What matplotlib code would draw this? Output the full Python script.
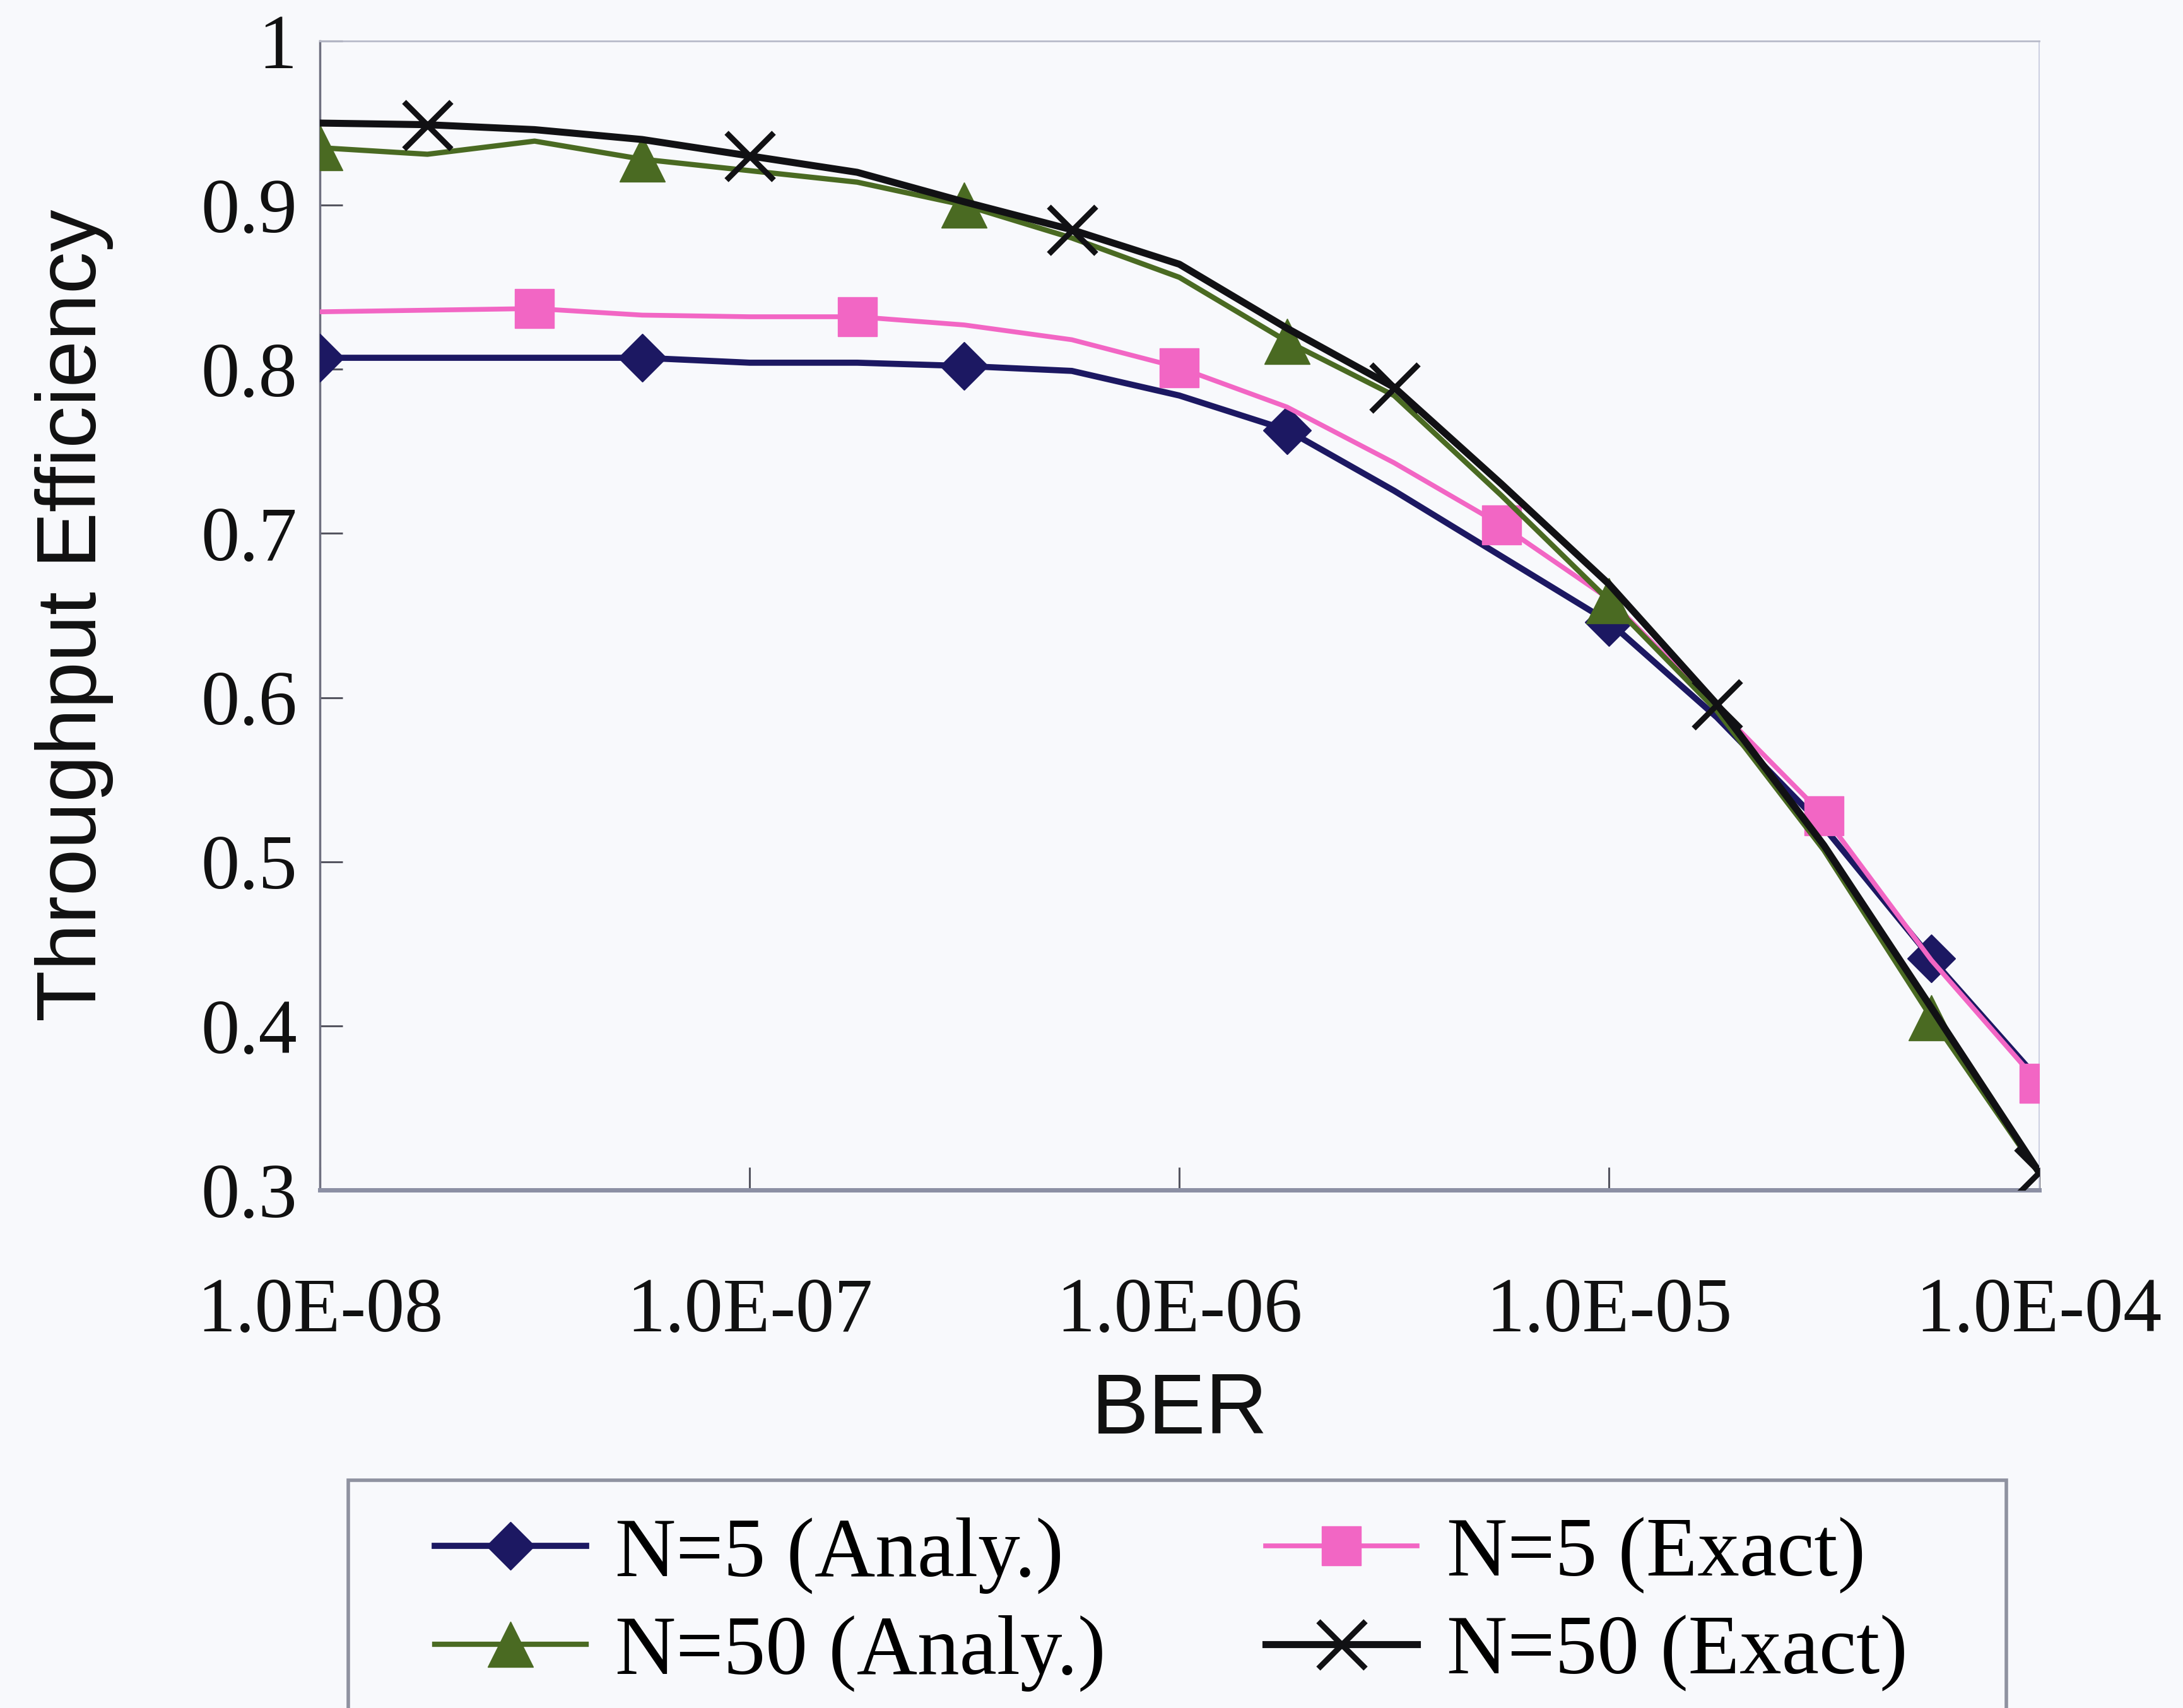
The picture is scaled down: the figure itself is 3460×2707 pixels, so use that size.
import matplotlib
matplotlib.use("Agg")
import matplotlib.pyplot as plt
from matplotlib.lines import Line2D
from matplotlib.patches import Rectangle

# Bit error rate sample points (quarter-decade steps)
ber = [1.0e-8, 1.78e-8, 3.16e-8, 5.62e-8,
       1.0e-7, 1.78e-7, 3.16e-7, 5.62e-7,
       1.0e-6, 1.78e-6, 3.16e-6, 5.62e-6,
       1.0e-5, 1.78e-5, 3.16e-5, 5.62e-5,
       1.0e-4]

# Throughput efficiency for each case
n5_analy = [0.807, 0.807, 0.807, 0.807, 0.804, 0.804, 0.802, 0.799, 0.784,
            0.763, 0.726, 0.686, 0.646, 0.588, 0.521, 0.441, 0.367]
n5_exact = [0.835, 0.836, 0.837, 0.833, 0.832, 0.832, 0.827, 0.818, 0.801,
            0.777, 0.743, 0.705, 0.660, 0.594, 0.528, 0.440, 0.365]
n50_analy = [0.935, 0.931, 0.939, 0.928, 0.921, 0.914, 0.900, 0.880, 0.856,
             0.817, 0.784, 0.723, 0.659, 0.592, 0.507, 0.405, 0.310]
n50_exact = [0.950, 0.949, 0.946, 0.940, 0.930, 0.920, 0.902, 0.885, 0.864,
             0.825, 0.789, 0.730, 0.669, 0.596, 0.510, 0.411, 0.311]

labels = ["N=5 (Analy.)", "N=50 (Analy.)", "N=5 (Exact)", "N=50 (Exact)"]
x_ticks = [1e-8, 1e-7, 1e-6, 1e-5, 1e-4]
x_tick_labels = ["1.0E-08", "1.0E-07", "1.0E-06", "1.0E-05", "1.0E-04"]
y_ticks = [0.3, 0.4, 0.5, 0.6, 0.7, 0.8, 0.9, 1.0]
y_tick_labels = ["0.3", "0.4", "0.5", "0.6", "0.7", "0.8", "0.9", "1"]

SERIF = ["Liberation Serif", "DejaVu Serif"]
SANS = ["Liberation Sans", "DejaVu Sans"]

NAVY = "#1c1862"
PINK = "#f266c4"
GREEN = "#4a6a22"
BLACK = "#111114"
BG = "#f8f9fc"

STYLE = {
    "n5_analy": dict(color=NAVY, lw=7.0, marker="D", ms=39, mfc=NAVY, mec=NAVY),
    "n5_exact": dict(color=PINK, lw=5.5, marker="s", ms=44, mfc=PINK, mec=PINK),
    "n50_analy": dict(color=GREEN, lw=6.0, marker="^", ms=52, mfc=GREEN, mec=GREEN),
    "n50_exact": dict(color=BLACK, lw=8.0, marker="x", ms=54, mew=6.5, mec=BLACK),
}

fig = plt.figure(figsize=(34.6, 27.07), dpi=100, facecolor=BG)
ax = fig.add_axes([0.1465, 0.3033, 0.7875, 0.6727], facecolor=BG)

ax.plot(ber, n5_analy, markevery=[0, 3, 6, 9, 12, 15], zorder=3,
        **STYLE["n5_analy"])
ax.plot(ber, n5_exact, markevery=[2, 5, 8, 11, 14, 16], zorder=3,
        **STYLE["n5_exact"])
ax.plot(ber, n50_analy, markevery=[0, 3, 6, 9, 12, 15], zorder=4,
        **STYLE["n50_analy"])
ax.plot(ber, n50_exact, markevery=[1, 4, 7, 10, 13, 16], zorder=5,
        **STYLE["n50_exact"])

ax.set_xscale("log")
ax.set_xlim(1e-8, 1e-4)
ax.set_ylim(0.3, 1.0)
ax.set_xticks(x_ticks)
ax.set_xticklabels(x_tick_labels)
ax.minorticks_off()
ax.set_yticks(y_ticks)
ax.set_yticklabels(y_tick_labels)

ax.tick_params(axis="both", direction="in", length=26, width=2.2,
               color="#555560", labelsize=88, labelcolor="#111111")
ax.tick_params(axis="y", pad=26)
ax.tick_params(axis="x", pad=100)
for lab in ax.get_xticklabels() + ax.get_yticklabels():
    lab.set_family(SERIF)

ax.spines["left"].set_color("#6f7080")
ax.spines["left"].set_linewidth(2.5)
ax.spines["bottom"].set_color("#8c90a4")
ax.spines["bottom"].set_linewidth(5)
ax.spines["top"].set_color("#b8bbca")
ax.spines["top"].set_linewidth(2)
ax.spines["right"].set_color("#cdd0e2")
ax.spines["right"].set_linewidth(1.5)

ax.set_ylabel("Throughput Efficiency", family=SANS, fontsize=96,
              color="#111111")
ax.yaxis.set_label_coords(-0.120, 0.5)
ax.set_xlabel("BER", family=SANS, fontsize=98, color="#111111", labelpad=27)

# Legend with an open-bottomed frame running off the lower edge
handles = [
    Line2D([], [], **STYLE["n5_analy"]),
    Line2D([], [], **STYLE["n50_analy"]),
    Line2D([], [], **STYLE["n5_exact"]),
    Line2D([], [], **STYLE["n50_exact"]),
]
leg = fig.legend(handles, labels, ncol=2, loc="upper left",
                 bbox_to_anchor=(0.199, 0.112), frameon=False,
                 prop={"family": SERIF, "size": 96},
                 handlelength=1.8, handletextpad=0.35, columnspacing=1.9,
                 labelspacing=0.25, borderaxespad=0, borderpad=0)

fig.add_artist(Rectangle((0.1595, -0.02), 0.7595, 0.1533,
                         transform=fig.transFigure, fill=False,
                         ec="#8f92a0", lw=4))

fig.savefig("out.png", dpi=100, facecolor=BG)
